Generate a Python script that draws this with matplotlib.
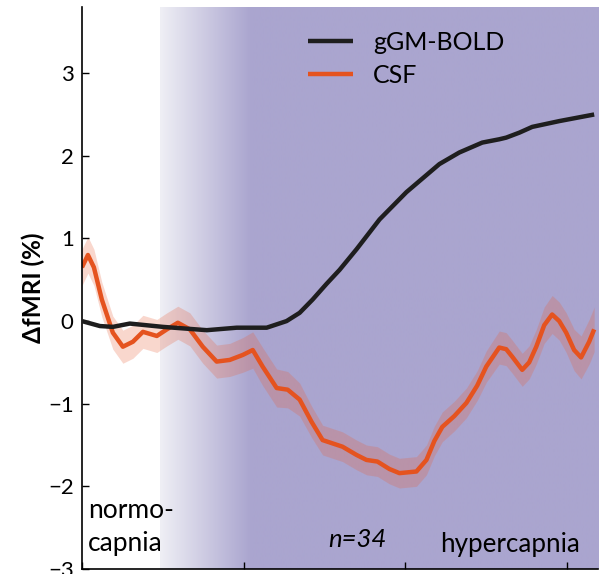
import numpy as np
import matplotlib
matplotlib.use('Agg')
import matplotlib.pyplot as plt
from matplotlib.colors import to_rgb

plt.rcParams['font.family'] = ['Lato', 'DejaVu Sans']

# time axis (s) and traces
t_bold = [0.0, 1.11, 1.91, 2.96, 5.0, 7.72, 9.57, 11.42, 12.65, 13.46, 14.26,
          15.12, 15.93, 16.98, 18.4, 20.06, 22.1, 23.33, 24.75, 25.8, 26.23,
          27.04, 27.84, 29.51, 31.67]
bold = [0.0, -0.06, -0.07, -0.03, -0.07, -0.11, -0.08, -0.08, 0.0, 0.1, 0.26,
        0.45, 0.62, 0.87, 1.23, 1.56, 1.9, 2.04, 2.16, 2.2, 2.22, 2.28, 2.35,
        2.42, 2.5]

t_csf = [0.0, 0.37, 0.74, 1.23, 1.91, 2.53, 3.15, 3.77, 4.63, 5.25, 5.93,
         6.67, 7.47, 8.33, 9.14, 9.94, 10.56, 11.17, 12.04, 12.72, 13.46,
         14.2, 14.88, 16.11, 16.98, 17.59, 18.27, 19.01, 19.63, 20.68, 21.3,
         21.79, 22.28, 23.02, 23.77, 24.44, 25.0, 25.8, 26.23, 26.6, 27.22,
         27.65, 28.09, 28.58, 29.07, 29.51, 29.94, 30.43, 30.86, 31.36, 31.67]
csf = [0.65, 0.8, 0.65, 0.26, -0.14, -0.31, -0.25, -0.13, -0.18, -0.1, -0.02,
       -0.1, -0.31, -0.49, -0.47, -0.41, -0.35, -0.55, -0.81, -0.83, -0.95,
       -1.22, -1.44, -1.52, -1.62, -1.68, -1.7, -1.79, -1.84, -1.82, -1.68,
       -1.45, -1.28, -1.15, -0.99, -0.78, -0.55, -0.32, -0.34, -0.43, -0.59,
       -0.5, -0.31, -0.05, 0.08, 0.0, -0.14, -0.35, -0.44, -0.25, -0.1]
csf_err = [0.22, 0.22, 0.22, 0.21, 0.2, 0.2, 0.2, 0.2, 0.2, 0.2, 0.2,
           0.2, 0.2, 0.2, 0.2, 0.21, 0.22, 0.23, 0.23, 0.22, 0.2,
           0.19, 0.18, 0.18, 0.18, 0.18, 0.18, 0.18, 0.18, 0.18, 0.18,
           0.18, 0.18, 0.18, 0.18, 0.18, 0.19, 0.2, 0.2, 0.2, 0.2,
           0.2, 0.21, 0.22, 0.23, 0.23, 0.24, 0.25, 0.26, 0.27, 0.27]

grad_start, grad_end = 4.8, 10.4
xmax = 31.9

fig = plt.figure(figsize=(6.07, 5.74), dpi=100)
ax = fig.add_axes([0.135, 0.0087, 0.85, 0.979])

# shaded gradient: normocapnia -> hypercapnia
purple = np.array(to_rgb('#aaa5cf'))
light = np.array(to_rgb('#efeff5'))
xs = np.linspace(grad_start, xmax, 800)
frac = np.clip((xs - grad_start) / (grad_end - grad_start), 0, 1)
img = light[None, :] * (1 - frac[:, None]) + purple[None, :] * frac[:, None]
ax.imshow(img[None, :, :], extent=[grad_start, xmax, -3, 3.8],
          aspect='auto', zorder=0, interpolation='bilinear')

tc = np.array(t_csf)
yc = np.array(csf)
ec = np.array(csf_err)
ax.fill_between(tc, yc - ec, yc + ec, color='#e8603a', alpha=0.25,
                lw=0, zorder=1)
ax.plot(t_bold, bold, color='#1e1e1e', lw=3.2, zorder=3, label='gGM-BOLD',
        solid_joinstyle='round', solid_capstyle='butt')
ax.plot(tc, yc, color='#e5531f', lw=3.2, zorder=2, label='CSF',
        solid_joinstyle='round', solid_capstyle='butt')

ax.set_xlim(0, xmax)
ax.set_ylim(-3, 3.8)
ax.set_xticks([0, 10, 20, 30])
ax.set_xticklabels([])
ax.set_yticks([-3, -2, -1, 0, 1, 2, 3])
ax.tick_params(direction='in', length=5, width=1, labelsize=16, pad=6)
for s in ['top', 'right']:
    ax.spines[s].set_visible(False)
for s in ['left', 'bottom']:
    ax.spines[s].set_linewidth(1.2)

ax.set_ylabel('ΔfMRI (%)', fontsize=17.5, fontweight='bold', labelpad=2)

leg = ax.legend(loc='upper left', bbox_to_anchor=(0.438, 0.957),
                frameon=False, fontsize=18, handlelength=1.8,
                handletextpad=0.8, labelspacing=0.38, borderpad=0,
                borderaxespad=0)

ax.text(0.012, 0.105, 'normo-', transform=ax.transAxes, fontsize=19,
        va='center', ha='left')
ax.text(0.012, 0.046, 'capnia', transform=ax.transAxes, fontsize=19,
        va='center', ha='left')
ax.text(0.533, 0.052, 'n=34', transform=ax.transAxes, fontsize=18.5,
        style='italic', va='center', ha='center')
ax.text(0.965, 0.043, 'hypercapnia', transform=ax.transAxes, fontsize=18.7,
        va='center', ha='right')

fig.savefig('out.png', dpi=100)
